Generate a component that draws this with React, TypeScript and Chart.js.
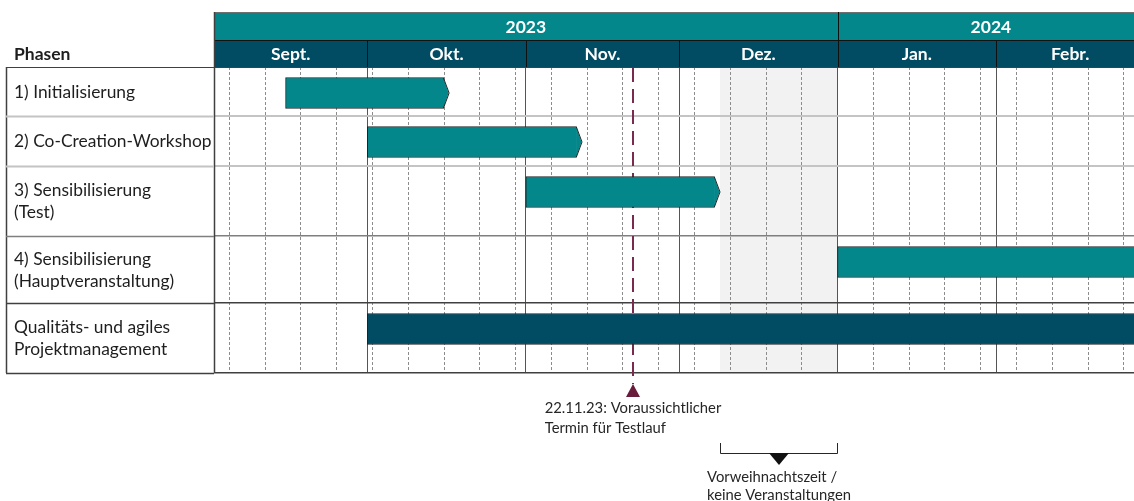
import React, { useEffect, useRef } from "react";
import { Chart, registerables } from "chart.js";

Chart.register(...registerables);

// ---------------- data ----------------
const phaseLabels: string[][] = [
  ["1) Initialisierung"],
  ["2) Co-Creation-Workshop"],
  ["3) Sensibilisierung", "(Test)"],
  ["4) Sensibilisierung", "(Hauptveranstaltung)"],
  ["Qualitäts- und agiles", "Projektmanagement"],
];
const phaseStart = ["2023-09-15", "2023-10-01", "2023-11-01", "2024-01-01", "2023-10-01"];
const phaseEnd = ["2023-10-16", "2023-11-11", "2023-12-08", "2024-03-31", "2024-03-31"];
const phaseArrow = [true, true, true, true, false];
const phaseKind = ["phase", "phase", "phase", "phase", "mgmt"];

const yearLabels = ["2023", "2024"];
const yearBounds = ["2023-09-01", "2024-01-01", "2024-03-01"];
const monthLabels = ["Sept.", "Okt.", "Nov.", "Dez.", "Jan.", "Febr."];
const monthBounds = [
  "2023-09-01", "2023-10-01", "2023-11-01", "2023-12-01",
  "2024-01-01", "2024-02-01", "2024-03-01",
];
const firstWeekStart = "2023-09-04";
const axisStart = "2023-09-01";
const axisEnd = "2024-02-28";

const headerTitle = "Phasen";
const milestoneDate = "2023-11-22";
const milestoneText = ["22.11.23: Voraussichtlicher", "Termin für Testlauf"];
const blackoutStart = "2023-12-09";
const blackoutEnd = "2024-01-01";
const blackoutText = ["Vorweihnachtszeit /", "keine Veranstaltungen"];

// ---------------- layout / style ----------------
const W = 1134;
const H = 501;
const ROW_H = [49, 50, 70, 67, 70];
const BAR_OFFSET = 26;
const TEAL = "#03878A";
const NAVY = "#014B63";
const SHADE = "#F2F2F2";
const MILESTONE = "#7A2A4E";
const MILESTONE_DARK = "#6A1B3C";
const TEXT = "#1E1E1E";
const ROW_LINE_COLORS = ["#404040", "#c4c4c4", "#c4c4c4", "#7f7f7f", "#404040", "#404040"];
const ROW_LINE_WIDTHS = [1, 2, 2, 1.5, 1.5, 1.5];
const FONT = "Lato";

const DAY = 86400000;
const base = Date.parse(axisStart + "T00:00:00Z");
const dayOf = (s: string) => (Date.parse(s + "T00:00:00Z") - base) / DAY;

const rowBounds: number[] = [0];
ROW_H.forEach((h, i) => rowBounds.push(rowBounds[i] + h));
const totalH = rowBounds[rowBounds.length - 1];

const weekTicks: number[] = [];
for (let d = dayOf(firstWeekStart); d <= dayOf(axisEnd); d += 7) weekTicks.push(d);
const monthTicks = monthBounds.map(dayOf).filter((d) => d <= dayOf(axisEnd));

const barColors = phaseKind.map((k) => (k === "mgmt" ? NAVY : TEAL));

const ganttPlugin = {
  id: "gantt",
  beforeDraw(chart: any) {
    const { ctx, chartArea: a, scales } = chart;
    const x = scales.x;
    const x0 = x.getPixelForValue(dayOf(blackoutStart));
    const x1 = x.getPixelForValue(dayOf(blackoutEnd));
    ctx.save();
    ctx.fillStyle = SHADE;
    ctx.fillRect(x0, a.top, x1 - x0, a.bottom - a.top);
    ctx.restore();
  },
  beforeDatasetsDraw(chart: any) {
    const { ctx, chartArea: a, scales } = chart;
    const mx = Math.round(scales.x.getPixelForValue(dayOf(milestoneDate)));
    ctx.save();
    ctx.strokeStyle = MILESTONE;
    ctx.lineWidth = 2;
    ctx.setLineDash([14, 7]);
    ctx.beginPath();
    ctx.moveTo(mx, a.top + 1);
    ctx.lineTo(mx, a.bottom + 11);
    ctx.stroke();
    ctx.restore();
  },
  afterDatasetsDraw(chart: any) {
    const { ctx, chartArea: a, scales } = chart;
    const x = scales.x;
    const meta = chart.getDatasetMeta(0);
    ctx.save();
    meta.data.forEach((el: any, i: number) => {
      if (!phaseArrow[i]) return;
      const p = el.getProps(["x", "y", "height"], true);
      if (p.x > a.right) return;
      const tipW = x.getPixelForValue(dayOf(phaseEnd[i]) + 1) - p.x;
      const top = p.y - p.height / 2;
      const bot = p.y + p.height / 2;
      ctx.fillStyle = barColors[i];
      ctx.beginPath();
      ctx.moveTo(p.x - 0.5, top + 1);
      ctx.lineTo(p.x + tipW - 0.5, p.y);
      ctx.lineTo(p.x - 0.5, bot - 1);
      ctx.closePath();
      ctx.fill();
      ctx.strokeStyle = "#1d2426";
      ctx.lineWidth = 1;
      ctx.beginPath();
      ctx.moveTo(p.x - 0.5, top + 0.5);
      ctx.lineTo(p.x + tipW, p.y);
      ctx.lineTo(p.x - 0.5, bot - 0.5);
      ctx.stroke();
    });
    ctx.restore();
  },
  afterDraw(chart: any) {
    const { ctx, chartArea: a, scales } = chart;
    const x = scales.x;
    const y = scales.y;
    const right = chart.width;
    const monthTop = a.top - 27;
    const yearTop = a.top - 55;
    ctx.save();

    // ---- header ----
    ctx.fillStyle = TEAL;
    ctx.fillRect(a.left, yearTop, right - a.left, monthTop - yearTop);
    ctx.fillStyle = NAVY;
    ctx.fillRect(a.left, monthTop, right - a.left, a.top - monthTop);
    ctx.strokeStyle = "#6f6f6f";
    ctx.lineWidth = 1;
    ctx.beginPath();
    ctx.moveTo(a.left, yearTop + 0.5);
    ctx.lineTo(right, yearTop + 0.5);
    ctx.stroke();
    ctx.strokeStyle = "#111";
    ctx.beginPath();
    ctx.moveTo(a.left, monthTop + 0.5);
    ctx.lineTo(right, monthTop + 0.5);
    ctx.stroke();
    yearBounds.forEach((b, i) => {
      if (i === 0) return;
      const px = Math.round(x.getPixelForValue(dayOf(b))) + 0.5;
      if (px > right) return;
      ctx.beginPath();
      ctx.moveTo(px, yearTop);
      ctx.lineTo(px, a.top);
      ctx.stroke();
    });
    monthBounds.forEach((b, i) => {
      if (i === 0) return;
      const px = Math.round(x.getPixelForValue(dayOf(b))) + 0.5;
      if (px > right) return;
      ctx.beginPath();
      ctx.moveTo(px, monthTop);
      ctx.lineTo(px, a.top);
      ctx.stroke();
    });
    ctx.fillStyle = "#ffffff";
    ctx.textAlign = "center";
    ctx.textBaseline = "alphabetic";
    ctx.font = `bold 17.5px ${FONT}`;
    yearLabels.forEach((lab, i) => {
      const cx = (x.getPixelForValue(dayOf(yearBounds[i])) + x.getPixelForValue(dayOf(yearBounds[i + 1]))) / 2;
      ctx.fillText(lab, cx, yearTop + 20.5);
    });
    monthLabels.forEach((lab, i) => {
      const cx = (x.getPixelForValue(dayOf(monthBounds[i])) + x.getPixelForValue(dayOf(monthBounds[i + 1]))) / 2;
      ctx.fillText(lab, cx, monthTop + 20);
    });

    // ---- left table ----
    ctx.textAlign = "left";
    ctx.fillStyle = TEXT;
    ctx.font = `bold 17.5px ${FONT}`;
    ctx.fillText(headerTitle, 14, a.top - 7);
    const tableLeft = 6;
    ctx.strokeStyle = "#404040";
    ctx.lineWidth = 1.5;
    ctx.beginPath();
    ctx.moveTo(tableLeft + 0.5, a.top);
    ctx.lineTo(tableLeft + 0.5, a.bottom);
    ctx.stroke();
    ctx.beginPath();
    ctx.moveTo(a.left + 0.5, yearTop);
    ctx.lineTo(a.left + 0.5, a.bottom);
    ctx.stroke();
    rowBounds.forEach((v, i) => {
      const py = Math.round(y.getPixelForValue(v)) + 0.5;
      ctx.strokeStyle = ROW_LINE_COLORS[i];
      ctx.lineWidth = ROW_LINE_WIDTHS[i];
      ctx.beginPath();
      ctx.moveTo(tableLeft, py);
      ctx.lineTo(a.left, py);
      ctx.stroke();
    });
    ctx.fillStyle = TEXT;
    ctx.font = `17.4px ${FONT}`;
    phaseLabels.forEach((lines, i) => {
      const cy = y.getPixelForValue(rowBounds[i] + ROW_H[i] / 2);
      lines.forEach((ln, j) => {
        ctx.fillText(ln, 14, cy + 6 + (j - (lines.length - 1) / 2) * 22);
      });
    });

    // ---- milestone marker & text ----
    const mx = Math.round(x.getPixelForValue(dayOf(milestoneDate)));
    ctx.fillStyle = MILESTONE_DARK;
    ctx.beginPath();
    ctx.moveTo(mx, a.bottom + 11);
    ctx.lineTo(mx + 7, a.bottom + 24);
    ctx.lineTo(mx - 7, a.bottom + 24);
    ctx.closePath();
    ctx.fill();
    ctx.font = `14.8px ${FONT}`;
    ctx.fillStyle = "#262626";
    const mw = Math.max(...milestoneText.map((t) => ctx.measureText(t).width));
    milestoneText.forEach((t, j) => ctx.fillText(t, mx - mw / 2, a.bottom + 40 + j * 20));

    // ---- blackout bracket ----
    const b0 = Math.round(x.getPixelForValue(dayOf(blackoutStart)));
    const b1 = Math.round(x.getPixelForValue(dayOf(blackoutEnd)));
    const bc = (b0 + b1) / 2;
    ctx.strokeStyle = "#262626";
    ctx.lineWidth = 1;
    ctx.beginPath();
    ctx.moveTo(b0 + 0.5, a.bottom + 70);
    ctx.lineTo(b0 + 0.5, a.bottom + 80.5);
    ctx.lineTo(b1 - 0.5, a.bottom + 80.5);
    ctx.lineTo(b1 - 0.5, a.bottom + 70);
    ctx.stroke();
    ctx.fillStyle = "#111";
    ctx.beginPath();
    ctx.moveTo(bc - 10, a.bottom + 80);
    ctx.lineTo(bc + 10, a.bottom + 80);
    ctx.lineTo(bc, a.bottom + 92);
    ctx.closePath();
    ctx.fill();
    ctx.fillStyle = "#262626";
    const bw = Math.max(...blackoutText.map((t) => ctx.measureText(t).width));
    blackoutText.forEach((t, j) => ctx.fillText(t, bc - bw / 2, a.bottom + 109 + j * 18));
    ctx.restore();
  },
};

export default function App() {
  const ref = useRef<HTMLCanvasElement>(null);
  useEffect(() => {
    document.body.style.margin = "0";
    const canvas = ref.current;
    if (!canvas) return;
    const chart = new Chart(canvas, {
      type: "bar",
      data: {
        datasets: [
          {
            label: headerTitle,
            data: phaseStart.map((s, i) => ({
              x: [dayOf(s), dayOf(phaseEnd[i])],
              y: rowBounds[i] + BAR_OFFSET,
            })) as any,
            backgroundColor: barColors,
            borderColor: "#1d2426",
            borderWidth: 1,
            borderSkipped: phaseArrow.map((a) => (a ? "end" : false)) as any,
            barThickness: 31,
          },
        ],
      },
      options: {
        indexAxis: "y",
        responsive: false,
        animation: false,
        devicePixelRatio: 1,
        events: [],
        layout: { padding: { left: 214, top: 67, right: 0, bottom: 128 } },
        plugins: {
          legend: { display: false },
          tooltip: { enabled: false },
          title: { display: false },
        },
        scales: {
          x: {
            type: "linear",
            position: "bottom",
            min: dayOf(axisStart),
            max: dayOf(axisEnd),
            offset: false,
            z: -1,
            ticks: { display: false },
            grid: { color: "#8c8c8c", lineWidth: 1, drawTicks: false, offset: false },
            border: { display: false, dash: [3, 2] },
            afterBuildTicks: (s: any) => {
              s.ticks = weekTicks.map((v) => ({ value: v }));
            },
            afterFit: (s: any) => {
              s.height = 0;
            },
          } as any,
          xMonths: {
            type: "linear",
            axis: "x",
            position: "bottom",
            min: dayOf(axisStart),
            max: dayOf(axisEnd),
            offset: false,
            ticks: { display: false },
            grid: { color: "#555555", lineWidth: 1, drawTicks: false, offset: false },
            border: { display: false },
            afterBuildTicks: (s: any) => {
              s.ticks = monthTicks.map((v) => ({ value: v }));
            },
            afterFit: (s: any) => {
              s.height = 0;
            },
          } as any,
          y: {
            type: "linear",
            min: 0,
            max: totalH,
            reverse: true,
            offset: false,
            ticks: { display: false },
            grid: {
              drawTicks: false,
              offset: false,
              color: (c: any) => ROW_LINE_COLORS[c.index] || "#c4c4c4",
              lineWidth: (c: any) => ROW_LINE_WIDTHS[c.index] || 1,
            },
            border: { display: false },
            afterBuildTicks: (s: any) => {
              s.ticks = rowBounds.map((v) => ({ value: v }));
            },
            afterFit: (s: any) => {
              s.width = 0;
            },
          } as any,
        },
      },
      plugins: [ganttPlugin],
    });
    return () => chart.destroy();
  }, []);
  return (
    <div style={{ width: W, height: H }}>
      <canvas ref={ref} width={W} height={H} style={{ display: "block" }} />
    </div>
  );
}
